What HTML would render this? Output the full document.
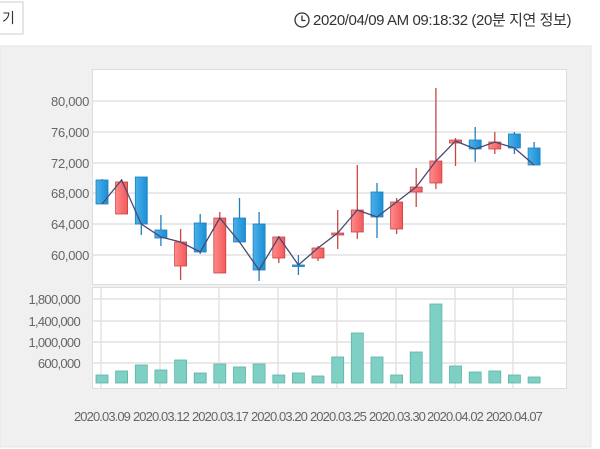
<!DOCTYPE html>
<html><head><meta charset="utf-8"><style>
html,body{margin:0;padding:0;background:#fff;width:600px;height:449px;overflow:hidden}
svg{display:block}
text{font-family:"Liberation Sans","Noto Sans CJK KR",sans-serif}
</style></head><body>
<svg width="600" height="449" xmlns="http://www.w3.org/2000/svg">
<defs>
<linearGradient id="rg" x1="0" x2="1"><stop offset="0" stop-color="#ff8a8a"/><stop offset="1" stop-color="#f25a5a"/></linearGradient>
<linearGradient id="bg" x1="0" x2="1"><stop offset="0" stop-color="#4bb0ea"/><stop offset="1" stop-color="#1a8fd6"/></linearGradient>
</defs>
<rect x="-1" y="2" width="24" height="32" fill="#fff" stroke="#ccc"/>
<text x="2" y="23" font-size="14" fill="#333">기</text>
<circle cx="302" cy="20" r="7" fill="none" stroke="#333" stroke-width="1.3"/>
<path d="M302 15.5v5h3.5" fill="none" stroke="#333" stroke-width="1.3"/>
<text x="313" y="25" font-size="15" fill="#333" letter-spacing="-0.4">2020/04/09 AM 09:18:32 (20분 지연 정보)</text>
<rect x="0" y="46" width="591" height="401" fill="#f0f0f0" stroke="#e4e4e4"/>
<rect x="92.5" y="69.5" width="474" height="215" fill="#fff" stroke="#ddd"/>
<rect x="92.5" y="287.5" width="474" height="101" fill="#fff" stroke="#ddd"/>
<g stroke="#e2e2e2" stroke-width="1.5">
<line x1="93" x2="566" y1="101" y2="101"/><line x1="93" x2="566" y1="132" y2="132"/><line x1="93" x2="566" y1="163" y2="163"/><line x1="93" x2="566" y1="193" y2="193"/><line x1="93" x2="566" y1="224" y2="224"/><line x1="93" x2="566" y1="255" y2="255"/>
<line x1="93" x2="566" y1="299" y2="299"/><line x1="93" x2="566" y1="321" y2="321"/><line x1="93" x2="566" y1="342" y2="342"/><line x1="93" x2="566" y1="363" y2="363"/>
<line x1="101" x2="101" y1="288" y2="388"/><line x1="160" x2="160" y1="288" y2="388"/><line x1="219" x2="219" y1="288" y2="388"/><line x1="278" x2="278" y1="288" y2="388"/><line x1="337" x2="337" y1="288" y2="388"/><line x1="396" x2="396" y1="288" y2="388"/><line x1="455" x2="455" y1="288" y2="388"/><line x1="513" x2="513" y1="288" y2="388"/>
</g>
<g font-size="13" fill="#666" text-anchor="end" letter-spacing="-0.3">
<text x="89" y="106">80,000</text><text x="89" y="137">76,000</text><text x="89" y="168">72,000</text><text x="89" y="198">68,000</text><text x="89" y="229">64,000</text><text x="89" y="260">60,000</text>
</g>
<g font-size="13" fill="#666" text-anchor="end" letter-spacing="-0.7">
<text x="80" y="304">1,800,000</text><text x="80" y="326">1,400,000</text><text x="80" y="347">1,000,000</text><text x="80" y="368">600,000</text>
</g>
<g font-size="13" fill="#666" text-anchor="middle" letter-spacing="-0.9">
<text x="102" y="421">2020.03.09</text><text x="161" y="421">2020.03.12</text><text x="220" y="421">2020.03.17</text><text x="279" y="421">2020.03.20</text><text x="338" y="421">2020.03.25</text><text x="397" y="421">2020.03.30</text><text x="455" y="421">2020.04.02</text><text x="514" y="421">2020.04.07</text>
</g>
<g stroke-width="1.3">
<g stroke="#1e7fbf">
<line x1="102" x2="102" y1="179" y2="204"/><line x1="141.3" x2="141.3" y1="177" y2="235"/><line x1="160.9" x2="160.9" y1="215" y2="246"/><line x1="200.2" x2="200.2" y1="214" y2="254"/><line x1="239.5" x2="239.5" y1="198" y2="242"/><line x1="259.1" x2="259.1" y1="212" y2="281"/><line x1="298.4" x2="298.4" y1="255" y2="275"/><line x1="377" x2="377" y1="183" y2="238"/><line x1="475.2" x2="475.2" y1="127" y2="162"/><line x1="514.4" x2="514.4" y1="132" y2="154"/><line x1="534.1" x2="534.1" y1="142" y2="165"/>
</g>
<g stroke="#c94444">
<line x1="121.6" x2="121.6" y1="179" y2="214"/><line x1="180.6" x2="180.6" y1="229" y2="280"/><line x1="219.8" x2="219.8" y1="212" y2="273"/><line x1="278.8" x2="278.8" y1="236" y2="263"/><line x1="318" x2="318" y1="246" y2="261"/><line x1="337.7" x2="337.7" y1="210" y2="249"/><line x1="357.3" x2="357.3" y1="165" y2="239"/><line x1="396.6" x2="396.6" y1="198" y2="234"/><line x1="416.2" x2="416.2" y1="168" y2="207"/><line x1="435.9" x2="435.9" y1="88" y2="189"/><line x1="455.5" x2="455.5" y1="138" y2="166"/><line x1="494.8" x2="494.8" y1="132" y2="154"/>
</g>
</g>
<g stroke-width="0.8">
<g fill="url(#bg)" stroke="#1e7fbf">
<rect x="96" y="180" width="12" height="24"/><rect x="135.3" y="177" width="12" height="47"/><rect x="154.9" y="230" width="12" height="8"/><rect x="194.2" y="223" width="12" height="29"/><rect x="233.5" y="218" width="12" height="24"/><rect x="253.1" y="224" width="12" height="46"/><rect x="292.4" y="265" width="12" height="1.5"/><rect x="371" y="192" width="12" height="25"/><rect x="469.2" y="140" width="12" height="9"/><rect x="508.4" y="134" width="12" height="14"/><rect x="528.1" y="148" width="12" height="17"/>
</g>
<g fill="url(#rg)" stroke="#c94444">
<rect x="115.6" y="182" width="12" height="32"/><rect x="174.6" y="242" width="12" height="24"/><rect x="213.8" y="218" width="12" height="55"/><rect x="272.8" y="237" width="12" height="21"/><rect x="312" y="248" width="12" height="10"/><rect x="331.7" y="233" width="12" height="2"/><rect x="351.3" y="210" width="12" height="22"/><rect x="390.6" y="202" width="12" height="27"/><rect x="410.2" y="187" width="12" height="5"/><rect x="429.9" y="161" width="12" height="22"/><rect x="449.5" y="140" width="12" height="3"/><rect x="488.8" y="142" width="12" height="7"/>
</g>
</g>
<polyline points="102,204 121.6,180 141.3,224 160.9,237 180.6,242 200.2,252 219.8,218 239.5,242 259.1,270 278.8,237 298.4,265 318,248 337.7,233 357.3,210 377,217 396.6,202 416.2,187 435.9,161 455.5,141 475.2,149 494.8,142 514.4,148 534.1,165" fill="none" stroke="#4a4a70" stroke-width="1.3"/>
<g fill="#7fd0c4" stroke="#5fb3a6" stroke-width="0.8">
<rect x="96" y="375" width="12" height="8"/><rect x="115.6" y="371" width="12" height="12"/><rect x="135.3" y="365" width="12" height="18"/><rect x="154.9" y="370" width="12" height="13"/><rect x="174.6" y="360" width="12" height="23"/><rect x="194.2" y="373" width="12" height="10"/><rect x="213.8" y="364" width="12" height="19"/><rect x="233.5" y="367" width="12" height="16"/><rect x="253.1" y="364" width="12" height="19"/><rect x="272.8" y="375" width="12" height="8"/><rect x="292.4" y="373" width="12" height="10"/><rect x="312" y="376" width="12" height="7"/><rect x="331.7" y="357" width="12" height="26"/><rect x="351.3" y="333" width="12" height="50"/><rect x="371" y="357" width="12" height="26"/><rect x="390.6" y="375" width="12" height="8"/><rect x="410.2" y="352" width="12" height="31"/><rect x="429.9" y="304" width="12" height="79"/><rect x="449.5" y="366" width="12" height="17"/><rect x="469.2" y="372" width="12" height="11"/><rect x="488.8" y="371" width="12" height="12"/><rect x="508.4" y="375" width="12" height="8"/><rect x="528.1" y="377" width="12" height="6"/>
</g>
</svg>
</body></html>
